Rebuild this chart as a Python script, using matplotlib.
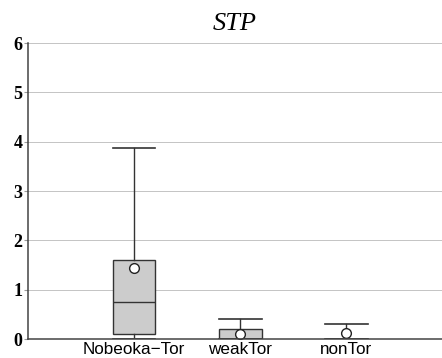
import matplotlib
matplotlib.use('Agg')
import matplotlib.pyplot as plt

# data
groups = ['Nobeoka\u2212Tor', 'weakTor', 'nonTor']
whislo = [0.0, 0.0, 0.0]
q1 = [0.1, 0.0, 0.0]
med = [0.75, 0.0, 0.0]
q3 = [1.6, 0.2, 0.0]
whishi = [3.88, 0.4, 0.3]
means = [1.43, 0.1, 0.13]

stats = []
for i, g in enumerate(groups):
    stats.append(dict(label=g, whislo=whislo[i], q1=q1[i], med=med[i],
                      q3=q3[i], whishi=whishi[i], mean=means[i], fliers=[]))

fig = plt.figure(figsize=(4.42, 3.58), dpi=100)
ax = fig.add_axes([28/442, 19/358, 414/442, 296/358])

ax.bxp(stats, positions=[1, 2, 3], widths=0.4, showmeans=True, patch_artist=True,
       boxprops=dict(facecolor='#cccccc', edgecolor='#333333', linewidth=1),
       medianprops=dict(color='#333333', linewidth=1),
       whiskerprops=dict(color='#333333', linewidth=1),
       capprops=dict(color='#333333', linewidth=1.2),
       capwidths=0.4,
       meanprops=dict(marker='o', markerfacecolor='white', markeredgecolor='#222222',
                      markersize=7, markeredgewidth=1))

ax.set_xlim(0.0, 3.9)
ax.set_ylim(0, 6)
ax.set_yticks(range(0, 7))
ax.yaxis.grid(True, color='#c4c4c4', linewidth=0.7)
ax.set_axisbelow(True)
for s in ['top', 'right']:
    ax.spines[s].set_visible(False)
ax.spines['left'].set_color('#444444')
ax.spines['bottom'].set_color('#444444')
ax.spines['left'].set_linewidth(1.1)
ax.spines['bottom'].set_linewidth(1.1)
ax.tick_params(axis='x', length=0, pad=2)
ax.tick_params(axis='y', length=3, pad=1, color='#999999')
for lab in ax.get_yticklabels():
    lab.set_fontfamily('Liberation Serif')
    lab.set_fontweight('bold')
    lab.set_fontsize(13)
for lab in ax.get_xticklabels():
    lab.set_fontfamily('Liberation Sans')
    lab.set_fontsize(12.3)

ax.set_title('STP', fontfamily='Liberation Serif', fontstyle='italic', fontsize=19, pad=9)

fig.savefig('out.png', dpi=100)
